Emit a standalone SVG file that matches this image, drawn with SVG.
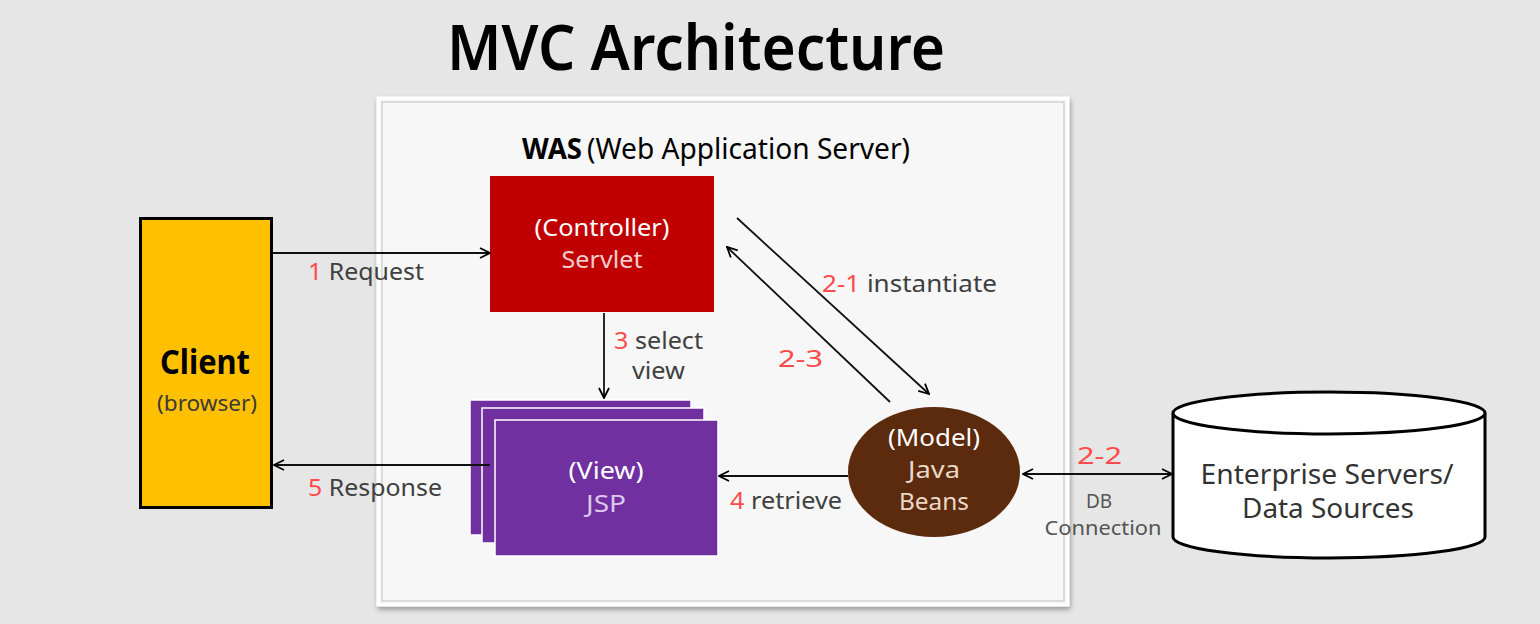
<svg xmlns="http://www.w3.org/2000/svg" width="1540" height="624" viewBox="0 0 1540 624">
<defs>
<marker id="arr" viewBox="0 0 12 12" refX="11" refY="6" markerWidth="12" markerHeight="12" markerUnits="userSpaceOnUse" orient="auto-start-reverse">
<path d="M1,1 L11,6 L1,11" fill="none" stroke="#000" stroke-width="1.8"/>
</marker>
<filter id="sh" x="-5%" y="-5%" width="110%" height="110%">
<feDropShadow dx="1" dy="3" stdDeviation="2.5" flood-color="#000" flood-opacity="0.35"/>
</filter>
</defs>
<style>
text{font-family:"Noto Sans","Open Sans","Liberation Sans",sans-serif;}
.lbl{font-size:24px;fill:#404040;}
.num{fill:#ff4b4b;}
.conn{stroke:#111;stroke-width:1.8;fill:none;}
.white{fill:#ffffff;}
</style>
<rect x="0" y="0" width="1540" height="624" fill="#e6e6e6"/>
<text x="696" y="70" text-anchor="middle" font-size="64" font-weight="600" fill="#000" textLength="498" lengthAdjust="spacingAndGlyphs">MVC Architecture</text>

<g id="was">
<rect x="378" y="98" width="690" height="507" fill="#f7f7f7" stroke="#ffffff" stroke-width="3" filter="url(#sh)"/>
<rect x="382" y="102" width="682" height="499" fill="none" stroke="#d2d2d2" stroke-width="1.5"/>
<text x="522" y="159" font-size="29" fill="#000"><tspan font-weight="700" textLength="60" lengthAdjust="spacingAndGlyphs">WAS</tspan><tspan x="587" textLength="323" lengthAdjust="spacingAndGlyphs">(Web Application Server)</tspan></text>
</g>

<g id="client">
<rect x="140.5" y="218.5" width="131" height="289" fill="#ffc000" stroke="#000" stroke-width="3"/>
<text x="205" y="374" text-anchor="middle" font-size="34" font-weight="700" fill="#000" textLength="90" lengthAdjust="spacingAndGlyphs">Client</text>
<text x="207" y="411" text-anchor="middle" font-size="21" fill="#3a3a3a" textLength="100" lengthAdjust="spacingAndGlyphs">(browser)</text>
</g>

<g id="controller">
<rect x="490" y="176" width="224" height="136" fill="#c00000"/>
<text x="602" y="236" text-anchor="middle" font-size="23" class="white" textLength="135" lengthAdjust="spacingAndGlyphs">(Controller)</text>
<text x="602" y="268" text-anchor="middle" font-size="23" fill="#f6cccc" textLength="81" lengthAdjust="spacingAndGlyphs">Servlet</text>
</g>

<g id="view">
<rect x="470" y="400" width="221" height="135" fill="#7030a0" stroke="#ffffff" stroke-width="1.5"/>
<rect x="482" y="408" width="222" height="135" fill="#7030a0" stroke="#ffffff" stroke-width="1.5"/>
<rect x="495" y="420" width="223" height="136" fill="#7030a0" stroke="#ffffff" stroke-width="1.5"/>
<text x="606" y="479" text-anchor="middle" font-size="23" class="white" textLength="75" lengthAdjust="spacingAndGlyphs">(View)</text>
<text x="606" y="512" text-anchor="middle" font-size="23" fill="#dcc6ee" textLength="40" lengthAdjust="spacingAndGlyphs">JSP</text>
</g>

<g id="model">
<ellipse cx="934" cy="472" rx="86" ry="65" fill="#5c2a0c"/>
<text x="934" y="446" text-anchor="middle" font-size="23" class="white" textLength="92" lengthAdjust="spacingAndGlyphs">(Model)</text>
<text x="934" y="478" text-anchor="middle" font-size="23" fill="#ead8c8" textLength="52" lengthAdjust="spacingAndGlyphs">Java</text>
<text x="934" y="510" text-anchor="middle" font-size="23" fill="#ead8c8" textLength="70" lengthAdjust="spacingAndGlyphs">Beans</text>
</g>

<g id="datasource">
<path d="M1173,413 L1173,537 A156,21 0 0 0 1485,537 L1485,413" fill="#ffffff" stroke="#000" stroke-width="3"/>
<ellipse cx="1329" cy="413" rx="156" ry="21" fill="#ffffff" stroke="#000" stroke-width="3"/>
<text x="1327" y="484" text-anchor="middle" font-size="27" fill="#333" textLength="253" lengthAdjust="spacingAndGlyphs">Enterprise Servers/</text>
<text x="1328" y="518" text-anchor="middle" font-size="27" fill="#333" textLength="172" lengthAdjust="spacingAndGlyphs">Data Sources</text>
</g>

<g id="connectors">
<line class="conn" x1="273" y1="253" x2="490" y2="253" marker-end="url(#arr)"/>
<line class="conn" x1="490" y1="465" x2="274" y2="465" marker-end="url(#arr)"/>
<line class="conn" x1="604" y1="313" x2="604" y2="398" marker-end="url(#arr)"/>
<line class="conn" x1="737" y1="218" x2="929" y2="394" marker-end="url(#arr)"/>
<line class="conn" x1="890" y1="402" x2="727" y2="247" marker-end="url(#arr)"/>
<line class="conn" x1="848" y1="476" x2="719" y2="476" marker-end="url(#arr)"/>
<line class="conn" x1="1023" y1="474" x2="1172" y2="474" marker-start="url(#arr)" marker-end="url(#arr)"/>
</g>

<g id="labels">
<text class="lbl" x="308" y="280" textLength="116" lengthAdjust="spacingAndGlyphs"><tspan class="num">1</tspan> Request</text>
<text class="lbl" x="308" y="496" textLength="134" lengthAdjust="spacingAndGlyphs"><tspan class="num">5</tspan> Response</text>
<text class="lbl" x="614" y="349" textLength="89" lengthAdjust="spacingAndGlyphs"><tspan class="num">3</tspan> select</text>
<text class="lbl" x="632" y="379" textLength="53" lengthAdjust="spacingAndGlyphs">view</text>
<text class="lbl" x="822" y="292" textLength="175" lengthAdjust="spacingAndGlyphs"><tspan class="num">2-1</tspan> instantiate</text>
<text class="lbl num" x="778" y="367" textLength="45" lengthAdjust="spacingAndGlyphs">2-3</text>
<text class="lbl" x="730" y="509" textLength="112" lengthAdjust="spacingAndGlyphs"><tspan class="num">4</tspan> retrieve</text>
<text class="lbl num" x="1077" y="464" textLength="45" lengthAdjust="spacingAndGlyphs">2-2</text>
<text x="1099" y="508" text-anchor="middle" font-size="19" fill="#555">DB</text>
<text x="1103" y="535" text-anchor="middle" font-size="19" fill="#555" textLength="117" lengthAdjust="spacingAndGlyphs">Connection</text>
</g>
</svg>
